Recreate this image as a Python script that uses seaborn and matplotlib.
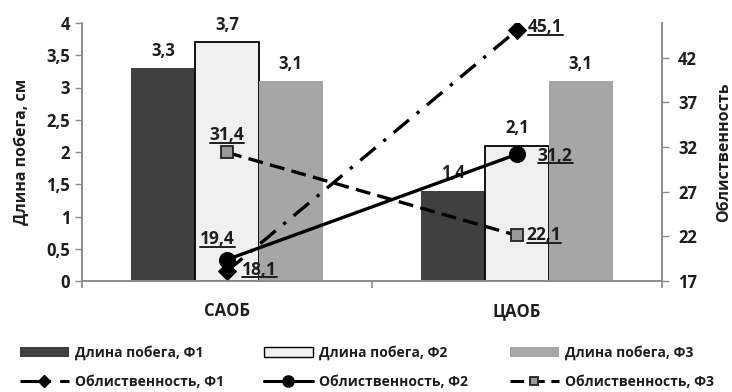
import numpy as np
import pandas as pd
import matplotlib
matplotlib.use("Agg")
import matplotlib.pyplot as plt
import seaborn as sns
from matplotlib.patches import Patch
from matplotlib.lines import Line2D

# ---- data ----
categories = ["САОБ", "ЦАОБ"]
bar_series = ["Длина побега, Ф1", "Длина побега, Ф2", "Длина побега, Ф3"]
length_f1 = [3.3, 1.4]
length_f2 = [3.7, 2.1]
length_f3 = [3.1, 3.1]
line_series = ["Облиственность, Ф1", "Облиственность, Ф2", "Облиственность, Ф3"]
leaf_f1 = [18.1, 45.1]
leaf_f2 = [19.4, 31.2]
leaf_f3 = [31.4, 22.1]
left_ticks = [0, 0.5, 1, 1.5, 2, 2.5, 3, 3.5, 4]
right_ticks = [17, 22, 27, 32, 37, 42]

def fmt(v):
    s = f"{v:g}"
    return s.replace(".", ",")

sns.set_theme(style="white")
FONT = "Open Sans"
plt.rcParams["font.family"] = [FONT, "DejaVu Sans"]
plt.rcParams["font.weight"] = "bold"

TXT = "#1e1e1e"
bar_colors = ["#404040", "#f0f0f0", "#a6a6a6"]
spine_c = "#8c8c8c"

fig = plt.figure(figsize=(7.32, 3.92), dpi=100)
ax = fig.add_axes([82/732, 1-281/392, 580/732, 258/392])

df = pd.DataFrame({
    "cat": categories * 3,
    "val": length_f1 + length_f2 + length_f3,
    "series": [bar_series[0]]*2 + [bar_series[1]]*2 + [bar_series[2]]*2,
})
sns.barplot(data=df, x="cat", y="val", hue="series", palette=bar_colors,
            width=0.66, saturation=1, ax=ax, legend=False, gap=0)

for i, cont in enumerate(ax.containers):
    for p in cont:
        if i == 1:
            p.set_edgecolor("black")
            p.set_linewidth(1.3)
        else:
            p.set_edgecolor("none")
    ax.bar_label(cont, labels=[fmt(v) for v in cont.datavalues], padding=6,
                 fontsize=12, fontweight="bold", color=TXT)

ax.set_xlim(-0.5, 1.5)
ax.set_ylim(0, 4)
ax.set_yticks(left_ticks)
ax.set_yticklabels([fmt(t) for t in left_ticks], fontsize=12, fontweight="bold", color=TXT)
ax.set_xticks([0, 1])
ax.set_xticklabels(categories, fontsize=12, fontweight="bold", color=TXT)
ax.set_xticks([-0.5, 0.5, 1.5], minor=True)
ax.tick_params(axis="x", which="major", length=0, pad=15)
ax.tick_params(axis="x", which="minor", length=5, color=spine_c, width=1.2, direction="out", bottom=True)
ax.tick_params(axis="y", length=5, color=spine_c, width=1.0, direction="out", left=True, pad=3.5)
ax.set_xlabel("")
ax.set_ylabel("Длина побега, см", fontsize=11.5, fontweight="bold", labelpad=12, color=TXT)
ax.spines["top"].set_visible(False)
for s in ["left", "bottom", "right"]:
    ax.spines[s].set_color(spine_c)
    ax.spines[s].set_linewidth(1.2)

ax2 = ax.twinx()
xpos = [0, 1]
styles = [
    dict(color="black", linestyle=(0, (6, 3, 1, 3)), marker="D", markersize=9, lw=2.4,
         markerfacecolor="black", markeredgecolor="black"),
    dict(color="black", linestyle="-", marker="o", markersize=11.5, lw=2.4,
         markerfacecolor="black", markeredgecolor="black"),
    dict(color="black", linestyle=(0, (4.5, 2.2)), marker="s", markersize=8.5, lw=2.4,
         markerfacecolor="#999999", markeredgecolor="#222222", markeredgewidth=1.3),
]
for vals, st in zip([leaf_f1, leaf_f2, leaf_f3], styles):
    sns.lineplot(x=xpos, y=vals, ax=ax2, sort=False, **st)

ax2.set_ylim(17, 45.9)
ax2.set_yticks(right_ticks)
ax2.set_yticklabels([str(t) for t in right_ticks], fontsize=12, fontweight="bold", color=TXT)
ax2.tick_params(axis="y", length=5, color=spine_c, width=1.0, direction="out", right=True, pad=6.5)
ax2.set_ylabel("Облиственность", fontsize=11.5, fontweight="bold", labelpad=14, color=TXT)
ax2.spines["top"].set_visible(False)
for s in ["left", "bottom", "right"]:
    ax2.spines[s].set_color(spine_c)
    ax2.spines[s].set_linewidth(1.2)

lab_kw = dict(textcoords="offset points", fontsize=12.5, fontweight="bold", color=TXT)
anns = [
    ax2.annotate(fmt(leaf_f1[0]), (xpos[0], leaf_f1[0]), xytext=(11, 1), ha="left", va="center", **lab_kw),
    ax2.annotate(fmt(leaf_f1[1]), (xpos[1], leaf_f1[1]), xytext=(8, 2), ha="left", va="center", **lab_kw),
    ax2.annotate(fmt(leaf_f2[0]), (xpos[0], leaf_f2[0]), xytext=(-7, 8), ha="center", va="bottom", **lab_kw),
    ax2.annotate(fmt(leaf_f2[1]), (xpos[1], leaf_f2[1]), xytext=(15, -1), ha="left", va="center", **lab_kw),
    ax2.annotate(fmt(leaf_f3[0]), (xpos[0], leaf_f3[0]), xytext=(0, 6), ha="center", va="bottom", **lab_kw),
    ax2.annotate(fmt(leaf_f3[1]), (xpos[1], leaf_f3[1]), xytext=(7, 0), ha="left", va="center", **lab_kw),
]

# legends (smaller markers in legend handles)
leg_styles = []
for st in styles:
    s2 = dict(st)
    s2["markersize"] = st["markersize"] * 0.7
    s2["lw"] = 2.2
    leg_styles.append(s2)
handles = [
    Patch(facecolor=bar_colors[0], edgecolor="none"),
    Line2D([], [], **leg_styles[0]),
    Patch(facecolor=bar_colors[1], edgecolor="black", linewidth=1.0),
    Line2D([], [], **leg_styles[1]),
    Patch(facecolor=bar_colors[2], edgecolor="none"),
    Line2D([], [], **leg_styles[2]),
]
labels = [bar_series[0], line_series[0], bar_series[1], line_series[1], bar_series[2], line_series[2]]
xs = [20/732, 264/732, 510/732]
for k in range(3):
    leg = fig.legend(handles[2*k:2*k+2], labels[2*k:2*k+2], loc="upper left",
                     bbox_to_anchor=(xs[k], 1-345/392), frameon=False,
                     prop={"family": FONT, "weight": "bold", "size": 10},
                     handlelength=3.5, handleheight=0.75, handletextpad=0.45,
                     labelspacing=1.1, borderaxespad=0, borderpad=0)
    for t in leg.get_texts():
        t.set_color(TXT)

# underline the line labels
fig.canvas.draw()
r = fig.canvas.get_renderer()
for a in anns:
    bb = a.get_window_extent(r)
    y = bb.y0 + 1.5
    fig.add_artist(Line2D([bb.x0, bb.x1], [y, y], transform=None, color=TXT, lw=1.4))

fig.savefig("out.png", dpi=100, facecolor="white")
